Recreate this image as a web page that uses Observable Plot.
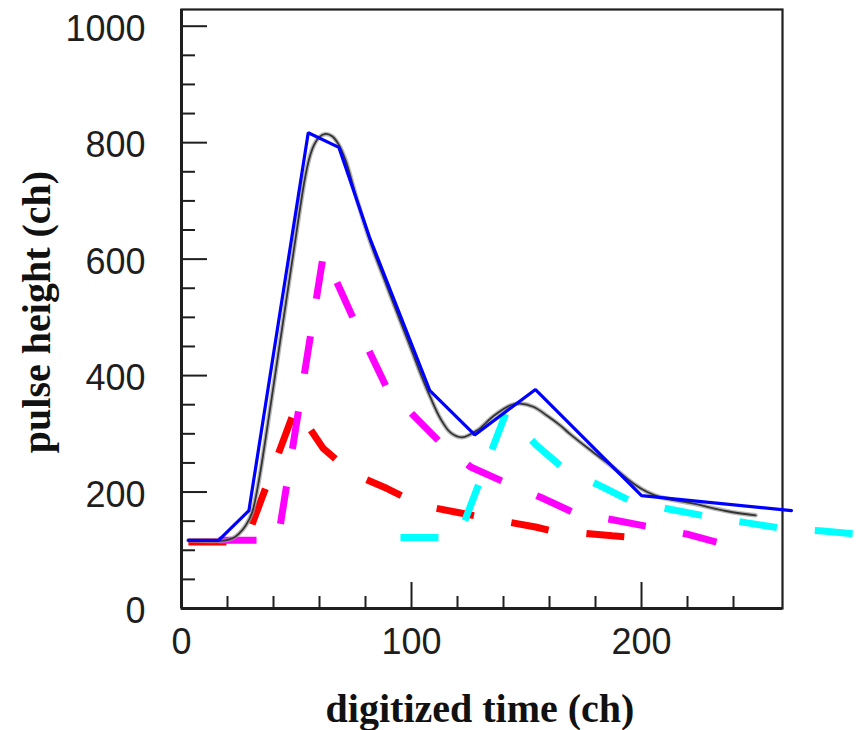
<!DOCTYPE html>
<html>
<head>
<meta charset="utf-8">
<script src="https://cdn.jsdelivr.net/npm/d3@7"></script>
<script src="https://cdn.jsdelivr.net/npm/@observablehq/plot@0.6"></script>
<style>
  html, body { margin: 0; padding: 0; background: #fff; }
</style>
</head>
<body>
<div id="chart"></div>
<script>
// ---- data ----
// measured pulse (smooth gray curve)
const grayT = [3, 19, 22.5, 24.9, 28, 30.7, 33.3, 36.5, 42, 48.7, 53.5, 55.5, 57.5, 60, 62.6, 65.5, 68.3, 71.3, 76.4, 82.2, 88.7, 95.2, 100.4, 104, 108.3, 112.6, 117, 122, 128.6, 135.8, 143, 147.4, 153.2, 159, 164.8, 169.1, 179.1, 189.4, 196.7, 202.5, 208.3, 222.7, 237.3, 249.6];
const grayV = [117, 117, 121, 128, 143, 165, 212, 290, 435, 612, 735, 772, 795, 810, 815, 811, 797, 770, 701, 628, 560, 493, 440, 403, 362, 326, 302, 294, 306, 331, 349, 352, 346, 331, 314, 299, 268, 237, 214, 200, 191, 180, 167, 160];

// fitted sum (blue solid)
const blueT = [3, 16.1, 29.3, 55.1, 68.4, 81.7, 108, 127.5, 153.9, 200, 265.2];
const blueV = [117, 117, 168, 817, 792, 638, 374, 298, 376, 194, 168];

// component 1 (red dashed)
const redT = [3, 27.8, 49.6, 61.6, 74.2, 89.4, 104.2, 121.3, 137, 153.9, 160.4, 170.3, 187.3, 203.6];
const redV = [114, 114, 345, 275, 232, 206, 177, 164, 152, 140, 134, 131, 125, 120];

// component 2 (magenta dashed)
const magT = [16.1, 41.9, 61.7, 67.7, 74.7, 82.2, 89.1, 101, 112.3, 125.7, 140.4, 156.1, 170.9, 188, 203.6, 220.6, 232.6];
const magV = [117, 117, 608, 559, 498, 437, 380, 331, 286, 243, 217, 191, 164, 152, 140, 127, 114];

// component 3 (cyan dashed)
const cyanT = [95.2, 120.4, 141, 153.9, 166.2, 181.9, 196, 212.9, 228.8, 246, 262.2, 279, 296];
const cyanV = [122, 122, 335, 282, 240, 211, 183, 170, 158, 147, 137, 133, 127];

// axis ticks
const xTickLabels = [0, 100, 200];
const xMinorTicks = [20, 40, 60, 80, 120, 140, 160, 180, 220, 240];
const xMajorTicks = [100, 200];
const yTickLabels = [0, 200, 400, 600, 800, 1000];
const yMajorTicks = [200, 400, 600, 800, 1000];
const yMinorTicks = [50, 100, 150, 250, 300, 350, 450, 500, 550, 650, 700, 750, 850, 900, 950];

const xLabel = "digitized time (ch)";
const yLabel = "pulse height (ch)";

const toRows = (T, V) => T.map((t, i) => ({t, v: V[i]}));
const gray = toRows(grayT, grayV);
const blue = toRows(blueT, blueV);
const red = toRows(redT, redV);
const mag = toRows(magT, magV);
const cyan = toRows(cyanT, cyanV);

const W = 865, H = 730;
const mL = 181, mR = 83, mT = 9, mB = 122;
const fw = W - mL - mR, fh = H - mT - mB;
const ink = "#1e1e1e";
const sans = "Liberation Sans, Arial, Helvetica, sans-serif";
const serif = "Liberation Serif, Times New Roman, serif";
const dash = "38,38";
const plain = d => String(d);

const chart = Plot.plot({
  width: W,
  height: H,
  marginLeft: mL,
  marginRight: mR,
  marginTop: mT,
  marginBottom: mB,
  style: {fontFamily: sans, background: "#fff", overflow: "visible"},
  x: {domain: [0, 261.3], label: null},
  y: {domain: [0, 1028.7], label: null},
  marks: [
    // tick labels
    Plot.axisX(xTickLabels, {tickSize: 0, tickPadding: 20, tickFormat: plain, fontSize: 36, fontFamily: sans, fill: ink, label: null}),
    Plot.axisY(yTickLabels, {tickSize: 0, tickPadding: 36, tickFormat: plain, fontSize: 36, fontFamily: sans, fill: ink, dy: 3, label: null}),
    // inward ticks
    Plot.tickX(xMajorTicks, {x: d => d, insetTop: fh - 26, stroke: ink, strokeWidth: 2}),
    Plot.tickX(xMinorTicks, {x: d => d, insetTop: fh - 12, stroke: ink, strokeWidth: 2}),
    Plot.tickY(yMajorTicks, {y: d => d, insetRight: fw - 26, stroke: ink, strokeWidth: 2}),
    Plot.tickY(yMinorTicks, {y: d => d, insetRight: fw - 14, stroke: ink, strokeWidth: 2}),
    // frame
    Plot.frame({stroke: ink, strokeWidth: 2.2}),
    Plot.ruleX([0], {stroke: ink, strokeWidth: 3}),
    Plot.ruleY([0], {stroke: ink, strokeWidth: 3}),
    // components (dashed)
    Plot.line(red, {x: "t", y: "v", stroke: "#ff0000", strokeWidth: 7, strokeDasharray: dash, strokeLinecap: "butt", strokeLinejoin: "miter"}),
    Plot.line(mag, {x: "t", y: "v", stroke: "#ff00ff", strokeWidth: 7, strokeDasharray: dash, strokeLinecap: "butt", strokeLinejoin: "miter"}),
    Plot.line(cyan, {x: "t", y: "v", stroke: "#00ffff", strokeWidth: 7, strokeDasharray: dash, strokeLinecap: "butt", strokeLinejoin: "miter"}),
    // measured pulse
    Plot.line(gray, {x: "t", y: "v", curve: "catmull-rom", stroke: "#9a9a9a", strokeWidth: 4.5, strokeOpacity: 0.7}),
    Plot.line(gray, {x: "t", y: "v", curve: "catmull-rom", stroke: "#333", strokeWidth: 1.8}),
    // sum
    Plot.line(blue, {x: "t", y: "v", stroke: "#0000ff", strokeWidth: 3.2, strokeLinejoin: "miter"}),
    // axis titles
    Plot.text([xLabel], {frameAnchor: "bottom", dy: 101, text: d => d, fontSize: 40, fontWeight: "bold", fontFamily: serif, fill: "#111", lineAnchor: "middle", textAnchor: "middle", dx: -2}),
    Plot.text([yLabel], {frameAnchor: "left", dx: -144, dy: 3, rotate: -90, text: d => d, fontSize: 40, fontWeight: "bold", fontFamily: serif, fill: "#111", lineAnchor: "middle", textAnchor: "middle"})
  ]
});
document.getElementById("chart").append(chart);
</script>
</body>
</html>
